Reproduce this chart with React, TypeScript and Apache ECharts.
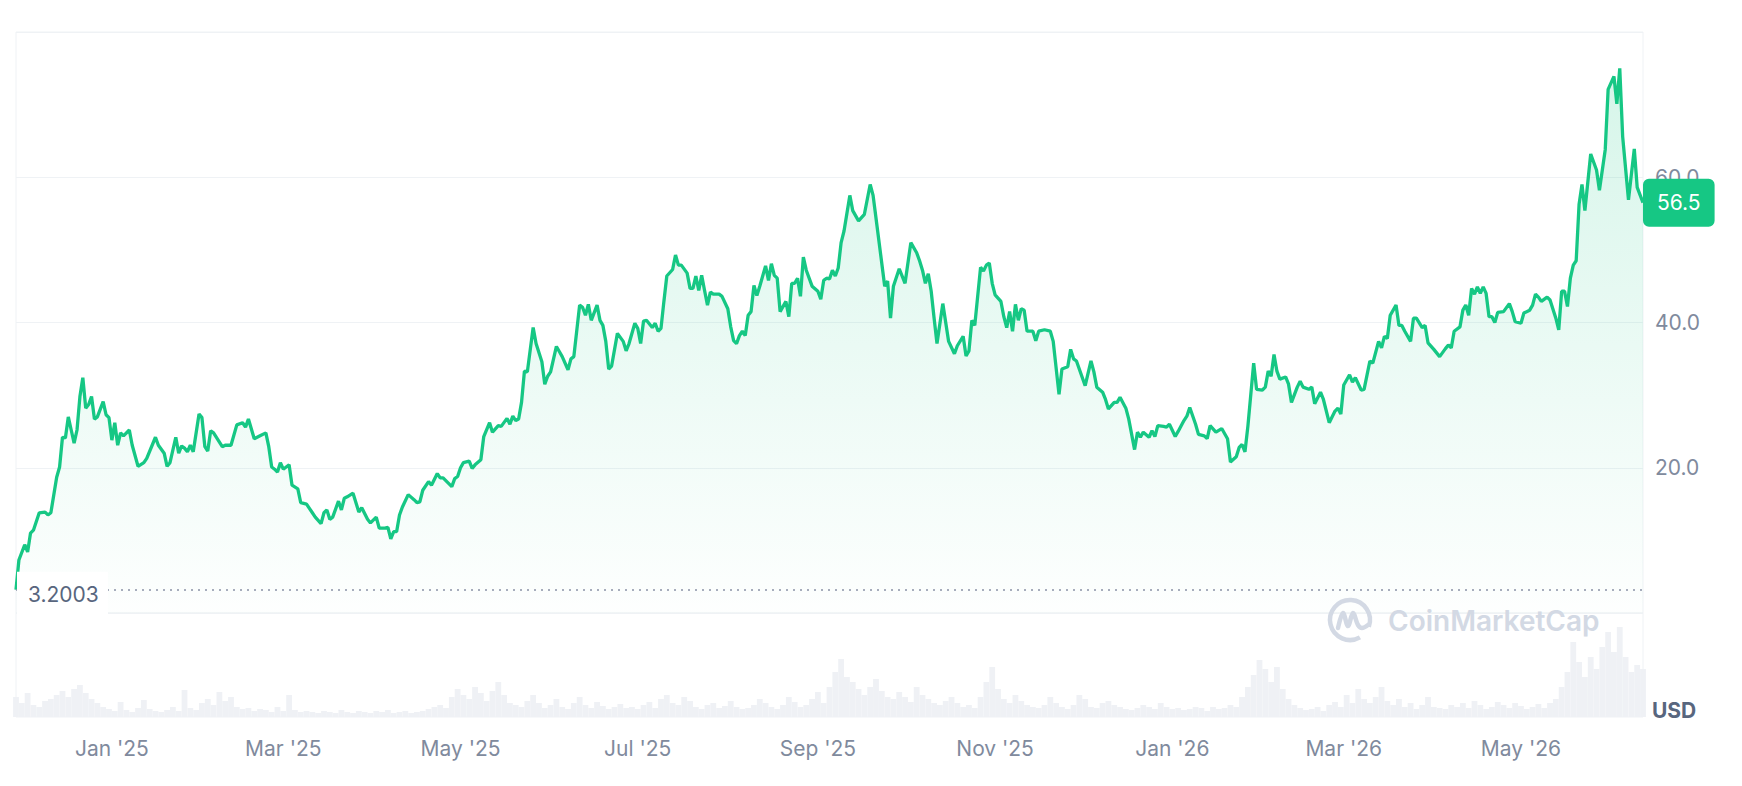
import React, { useEffect, useRef } from "react";
import * as echarts from "echarts";

// ---- data ----
const START_DATE = "2024-11-29"; // day 0
const END_DAY = 560; // 2026-06-12

const tickDates = [
  "2025-01-01", "2025-03-01", "2025-05-01", "2025-07-01", "2025-09-01",
  "2025-11-01", "2026-01-01", "2026-03-01", "2026-05-01",
];
const tickLabels = [
  "Jan '25", "Mar '25", "May '25", "Jul '25", "Sep '25",
  "Nov '25", "Jan '26", "Mar '26", "May '26",
];

// days since START_DATE
const priceDays = [
  0, 1, 3, 4, 5, 6, 8, 10, 11, 12, 14, 15, 16, 17, 18, 19, 20, 21, 22, 23, 24, 25, 26, 27, 28, 30, 31, 32, 33, 34,
  35, 36, 37, 39, 40, 42, 44, 45, 48, 49, 51, 52, 53, 55, 56, 57, 58, 59, 60, 61, 63, 64, 65, 66, 67, 68, 71, 72, 74, 76,
  78, 79, 80, 82, 84, 86, 87, 88, 89, 90, 91, 92, 93, 94, 95, 97, 98, 100, 102, 103, 105, 106, 107, 108, 109, 111, 112, 113, 114, 116,
  118, 119, 121, 122, 124, 125, 127, 128, 129, 130, 131, 132, 133, 135, 137, 138, 139, 140, 142, 143, 145, 146, 147, 150, 151, 152, 153, 154, 156, 157,
  158, 160, 161, 163, 164, 166, 167, 169, 170, 171, 172, 173, 174, 175, 176, 178, 179, 181, 182, 183, 184, 186, 187, 188, 190, 191, 192, 194, 195, 196,
  197, 198, 200, 201, 202, 203, 204, 205, 207, 209, 210, 211, 213, 214, 215, 216, 217, 219, 220, 221, 222, 223, 224, 226, 227, 228, 229, 231, 232, 233,
  234, 235, 236, 237, 238, 239, 240, 242, 243, 245, 246, 247, 248, 249, 250, 251, 252, 253, 254, 255, 256, 258, 259, 260, 261, 262, 263, 265, 266, 267,
  268, 269, 270, 271, 272, 274, 276, 277, 278, 279, 280, 281, 282, 283, 284, 285, 287, 288, 290, 292, 294, 295, 296, 299, 300, 301, 302, 304, 306, 308,
  310, 311, 312, 313, 314, 315, 316, 317, 319, 321, 323, 324, 326, 327, 328, 329, 330, 332, 333, 334, 335, 336, 337, 339, 340, 341, 342, 343, 344, 345,
  346, 347, 348, 350, 351, 352, 354, 356, 357, 359, 360, 362, 363, 364, 365, 368, 370, 371, 372, 374, 375, 376, 378, 379, 380, 382, 383, 385, 386, 387,
  388, 390, 391, 392, 393, 395, 396, 397, 399, 400, 402, 403, 404, 406, 407, 409, 410, 411, 413, 415, 417, 418, 420, 421, 422, 423, 424, 426, 427, 429,
  430, 431, 432, 433, 434, 435, 437, 438, 439, 441, 442, 443, 445, 446, 447, 449, 450, 452, 454, 455, 456, 457, 459, 460, 461, 463, 464, 466, 467, 469,
  470, 471, 472, 473, 475, 476, 477, 478, 480, 481, 482, 484, 485, 486, 488, 490, 492, 493, 494, 495, 497, 498, 499, 500, 501, 502, 503, 504, 505, 506,
  507, 508, 509, 510, 512, 514, 515, 516, 518, 519, 521, 522, 523, 524, 525, 527, 528, 530, 531, 532, 533, 534, 535, 536, 537, 538, 539, 540, 542, 544,
  545, 547, 548, 550, 551, 552, 553, 555, 557, 558, 560,
];
const priceValues = [
  3.2, 7.3, 9.4, 8.4, 11, 11.4, 13.8, 13.9, 13.5, 13.8, 18.7, 20.1, 24.2, 24.1, 27, 25.2, 23.4, 25.2, 29.8, 32.4, 28.2, 28.7, 29.8, 26.7, 27, 29.1, 27.3, 26.9, 23.8, 26.2,
  23.1, 24.8, 24.4, 25.2, 23.1, 20.2, 20.7, 21.3, 24.2, 23.1, 22, 20.2, 20.7, 24.2, 22, 23, 22.7, 22.2, 23.1, 22.2, 27.4, 26.9, 22.9, 22.3, 25.1, 24.8, 22.9, 23.1, 23.1, 25.9,
  26.2, 25.6, 26.7, 24, 24.4, 24.8, 22.9, 20.1, 19.8, 19.4, 20.7, 19.8, 20.1, 20.4, 17.6, 17.1, 15.2, 15, 13.8, 13.2, 12.3, 13.8, 14.2, 12.9, 13.2, 15.4, 14.2, 15.8, 16, 16.5,
  13.9, 14.5, 12.9, 12.4, 13.2, 11.7, 11.7, 11.8, 10.2, 11.2, 11.2, 13.5, 14.6, 16.3, 15.6, 15.2, 15.3, 16.9, 18.1, 17.6, 19.2, 18.6, 18.6, 17.4, 18.5, 18.8, 20, 20.7, 20.9, 19.9,
  20.4, 21.1, 24.3, 26.2, 24.9, 25.8, 25.7, 26.8, 26, 27.1, 26.5, 26.7, 29, 33.3, 33.2, 39.3, 37.1, 34.6, 31.5, 32.6, 33.2, 36.7, 36, 35.3, 33.5, 35, 35.3, 42.4, 42.1, 41,
  42.5, 40.3, 42.4, 40.3, 39.6, 37.4, 33.6, 34, 38.5, 37.4, 36.1, 37.1, 39.9, 39.2, 37.1, 40.2, 40.3, 39.3, 39.9, 38.8, 39.2, 42.9, 46.4, 47.3, 49.3, 47.9, 47.9, 46.8, 44.7, 44.7,
  46.4, 44.4, 46.5, 44.4, 42.4, 44.2, 43.9, 43.9, 43.6, 41.9, 39.4, 37.5, 37.1, 38.2, 38.8, 38.2, 41, 41.5, 45.1, 43.7, 45, 47.8, 45.8, 48.1, 46.5, 46.1, 41.5, 42.9, 40.8, 45.4,
  45.4, 46.1, 43.6, 49, 47.2, 45, 44.3, 43.2, 45.8, 46.1, 46, 47.2, 46.4, 47.5, 51, 52.6, 57.5, 55.4, 54, 54.9, 59, 57.5, 54.4, 45, 45.7, 40.6, 45, 47.4, 45.4, 51,
  49.6, 48.5, 47.2, 45.4, 46.7, 44.3, 40.6, 37.1, 42.6, 37.4, 35.7, 36.8, 38.1, 35.4, 36.1, 40.3, 39.6, 47.6, 47.1, 47.9, 48.2, 45.4, 43.8, 42.9, 40.8, 39.3, 41.5, 38.8, 42.5, 40.3,
  41.9, 41.7, 38.8, 38.8, 37.5, 38.8, 39, 38.8, 37.4, 30.1, 33.6, 33.9, 36.3, 35, 34.7, 31.3, 34.7, 33.2, 31.1, 30.4, 29.4, 28.1, 29, 29, 29.7, 28.2, 26.7, 22.5, 24.9, 24.2,
  24.9, 24.2, 25.1, 24.3, 25.8, 25.7, 25.6, 26, 24.3, 25, 26.5, 27.1, 28.3, 26, 24.6, 24.4, 24, 25.8, 24.9, 25.4, 24, 20.8, 21.5, 22.8, 23.2, 22.2, 25.7, 34.4, 30.8, 30.7,
  31.1, 33.3, 32.6, 35.6, 33.3, 32.2, 32.5, 31.5, 29, 31.1, 31.9, 31.1, 30.8, 31.1, 28.8, 30.4, 29.4, 26.2, 27.8, 28.2, 27.4, 31.4, 32.8, 31.8, 32.4, 30.7, 30.8, 34.7, 34.4, 37.4,
  36.5, 38.1, 37.8, 41, 42.4, 39.6, 39.6, 38.8, 37.4, 40.6, 40.6, 39.3, 39.6, 37.2, 36.3, 35.3, 36.4, 36.9, 36.5, 38.8, 39.4, 41.7, 42.4, 41, 44.7, 43.9, 44.9, 44, 44.9, 44,
  40.8, 40.8, 40, 41.4, 41.5, 42.6, 41.5, 40.1, 39.9, 41.3, 41.7, 42.4, 43.9, 43.5, 42.9, 43.5, 43.1, 40.6, 39, 44.3, 44.3, 42.2, 46.1, 47.9, 48.5, 56.3, 59, 55.4, 63.2, 61,
  58.2, 63.8, 72.1, 73.9, 70.1, 75, 65.6, 56.9, 63.9, 58.6, 56.5,
];

// volume, one bar every VOLUME_STEP days starting at day 0 (relative heights)
const VOLUME_STEP = 2;
const volumeValues = [
  20, 14, 24, 12, 10, 16,
  18, 22, 26, 20, 28, 32, 24, 18, 14, 10,
  8, 6, 15, 7, 5, 9, 17, 8, 6, 5, 7, 10, 6, 27, 9,
  7, 14, 18, 12, 25, 16, 20, 10, 8, 9,
  6, 8, 7, 5, 10, 6, 22, 7, 5, 6,
  5, 4, 6, 5, 4, 7, 5, 4, 6, 5, 4, 6, 5, 7, 4, 5, 6, 4, 5, 6,
  8, 10, 12, 9,
  20, 28, 22, 18, 30, 24, 16, 26, 35, 22, 14,
  12, 10, 16, 22, 14, 9, 12, 18, 10, 8, 14, 20, 12, 9, 15, 11, 8, 10, 13, 9,
  10, 8, 12, 15, 9, 18, 22, 14, 12, 20, 16, 10, 8, 12, 14, 9, 11, 16, 10, 8,
  9, 12, 18, 14, 10, 8, 12, 20, 15, 10, 12, 18, 25, 14, 30,
  45, 58, 40, 35, 28, 22, 30, 38, 26, 20,
  18, 25, 20, 15, 30, 22, 18, 14, 12, 16, 20, 14, 10, 12, 9,
  20, 35, 50, 28, 18, 14, 22, 16, 12, 10,
  9, 12, 20, 14, 10, 8, 12, 22, 18, 10, 9, 14, 16, 12, 10, 8, 7, 9, 12, 10, 8, 14, 10, 8, 9,
  7, 8, 10, 9, 6, 10, 8, 9, 12, 10,
  20, 30, 42, 57, 48, 35, 50, 28, 18, 12,
  9, 7, 8, 10, 6, 12, 15, 10, 22, 14,
  28, 18, 14, 20, 30, 16, 12, 18, 10, 14, 8, 12, 20, 10, 9,
  8, 12, 10, 14, 9, 16, 12, 8, 10, 15, 12, 9, 14, 11, 8, 10, 13, 9, 14, 18,
  30, 45, 75, 55, 40, 60, 48, 70, 85, 65, 90, 60, 45, 52, 48,
];

const OPEN_PRICE = 3.2003;

export default function App() {
  const ref = useRef<HTMLDivElement>(null);

  useEffect(() => {
    document.body.style.margin = "0";
    if (!ref.current) return;
    const chart = echarts.init(ref.current, null, { renderer: "svg" });
    const DAY = 86400000;
    const t0 = Date.parse(START_DATE);
    const tMax = t0 + END_DAY * DAY;
    const price = priceDays.map((d, i) => [t0 + d * DAY, priceValues[i]]);
    const volume = volumeValues.map((v, i) => [t0 + i * VOLUME_STEP * DAY, v]);
    const tickTs = tickDates.map((s) => Date.parse(s));
    const lastPrice = priceValues[priceValues.length - 1];
    const font = "Inter, 'Noto Sans', sans-serif";
    const green = "#16c784";
    const gridLine = "#eff2f5";
    const labelGray = "#808a9d";

    chart.setOption({
      animation: false,
      grid: [
        { left: 16, right: 99, top: 32, height: 581, show: true, borderColor: gridLine, borderWidth: 1 },
        { left: 16, right: 99, top: 613, height: 104, show: true, borderColor: gridLine, borderWidth: 1 },
      ],
      xAxis: [
        { type: "value", gridIndex: 0, min: t0, max: tMax, show: false },
        {
          type: "value",
          gridIndex: 1,
          min: t0,
          max: tMax,
          axisLine: { show: false },
          axisTick: { show: false },
          splitLine: { show: false },
          axisLabel: {
            customValues: tickTs,
            formatter: (v: number) => {
              const k = tickTs.indexOf(v);
              return k >= 0 ? tickLabels[k] : "";
            },
            margin: 21,
            color: labelGray,
            fontSize: 21,
            fontFamily: font,
          },
        },
      ],
      yAxis: [
        {
          type: "value",
          gridIndex: 0,
          position: "right",
          min: 0,
          max: 80,
          interval: 20,
          axisLine: { show: false },
          axisTick: { show: false },
          splitLine: { lineStyle: { color: gridLine, width: 1 } },
          axisLabel: {
            showMinLabel: false,
            showMaxLabel: false,
            margin: 12,
            color: labelGray,
            fontSize: 21,
            fontFamily: font,
            formatter: (v: number) => v.toFixed(1),
          },
        },
        { type: "value", gridIndex: 1, min: 0, max: 104, show: false },
      ],
      series: [
        {
          type: "bar",
          xAxisIndex: 1,
          yAxisIndex: 1,
          data: volume,
          barWidth: 5.8,
          itemStyle: { color: "#eff1f5" },
          silent: true,
          z: 1,
        },
        {
          type: "line",
          xAxisIndex: 0,
          yAxisIndex: 0,
          data: price,
          showSymbol: false,
          symbol: "none",
          smooth: false,
          lineStyle: { color: green, width: 3.3 },
          areaStyle: {
            color: new echarts.graphic.LinearGradient(0, 0, 0, 1, [
              { offset: 0, color: "rgba(22,199,132,0.25)" },
              { offset: 1, color: "rgba(22,199,132,0.01)" },
            ]),
          },
          z: 3,
          markLine: {
            silent: true,
            symbol: ["none", "none"],
            animation: false,
            data: [
              {
                yAxis: OPEN_PRICE,
                lineStyle: { type: [2, 5], color: "#8a93a6", width: 1.5 },
                label: { show: false },
              },
              {
                yAxis: lastPrice,
                lineStyle: { color: "rgba(0,0,0,0)", width: 0 },
                label: {
                  show: true,
                  position: "end",
                  distance: 0,
                  formatter: lastPrice.toFixed(1),
                  color: "#ffffff",
                  fontSize: 21,
                  fontFamily: font,
                  backgroundColor: green,
                  padding: [14, 14, 13, 14],
                  borderRadius: 6,
                },
              },
            ],
          },
        },
      ],
    });

    const p = chart.convertToPixel({ xAxisIndex: 0, yAxisIndex: 0 }, [t0, OPEN_PRICE]) as number[];
    const baseY = p[1];
    const wmColor = "#d3d9e4";
    const cx = 1350;
    const cy = 620;

    chart.setOption({
      graphic: [
        {
          type: "rect",
          shape: { x: 17, y: baseY - 18, width: 91, height: 614 - (baseY - 18) },
          style: { fill: "#ffffff" },
          z: 10,
          silent: true,
        },
        {
          type: "text",
          x: 28,
          y: baseY + 5,
          z: 11,
          silent: true,
          style: {
            text: OPEN_PRICE.toFixed(4),
            fill: "#58667e",
            font: `21px ${font}`,
            verticalAlign: "middle",
            align: "left",
          },
        },
        {
          type: "text",
          x: 1652,
          y: 710,
          silent: true,
          style: {
            text: "USD",
            fill: "#58667e",
            font: `bold 21px ${font}`,
            verticalAlign: "middle",
            align: "left",
          },
        },
        {
          type: "arc",
          silent: true,
          z: 5,
          shape: { cx, cy, r: 20, startAngle: 1.05, endAngle: 6.63, clockwise: true },
          style: { stroke: wmColor, lineWidth: 4.5, fill: "none" },
        },
        {
          type: "polyline",
          silent: true,
          z: 5,
          shape: {
            points: [
              [cx - 12, cy + 8],
              [cx - 7, cy - 7],
              [cx - 2, cy + 6],
              [cx + 3, cy - 7],
              [cx + 8, cy + 5],
              [cx + 12, cy + 8],
              [cx + 18, cy + 5],
            ],
            smooth: 0.35,
          },
          style: { stroke: wmColor, lineWidth: 4.5, fill: "none", lineCap: "round", lineJoin: "round" },
        },
        {
          type: "text",
          x: 1388,
          y: cy + 1,
          z: 5,
          silent: true,
          style: {
            text: "CoinMarketCap",
            fill: wmColor,
            font: `600 28px ${font}`,
            verticalAlign: "middle",
            align: "left",
          },
        },
      ],
    });

    return () => {
      chart.dispose();
    };
  }, []);

  return <div ref={ref} style={{ width: 1742, height: 786 }} />;
}
